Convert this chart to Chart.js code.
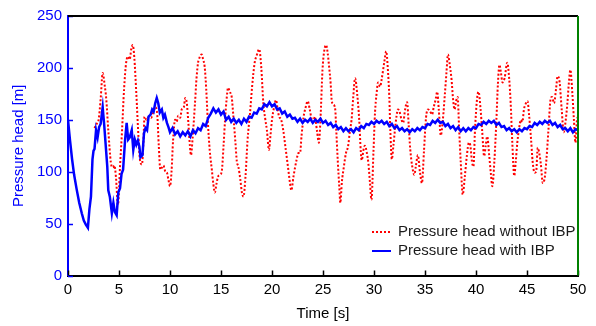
<!DOCTYPE html>
<html>
<head>
<meta charset="utf-8">
<script src="https://cdn.jsdelivr.net/npm/chart.js@4.4.0/dist/chart.umd.min.js"></script>
<style>
  html, body { margin: 0; padding: 0; background: #fff; }
</style>
</head>
<body>
<canvas id="chart" width="596" height="326"></canvas>
<script>
// pressure head without IBP (red dotted)
const redTime = [2.6, 2.8, 3.0, 3.2, 3.4, 3.6, 3.75, 3.95, 4.2, 4.4, 4.55, 4.7, 4.9, 5.1, 5.3, 5.5, 5.7, 5.9, 6.05, 6.2, 6.35, 6.5, 6.7, 6.9, 7.05, 7.25, 7.4, 7.5, 7.7, 7.95, 8.15, 8.35, 8.55, 8.75, 8.9, 9.05, 9.2, 9.35, 9.55, 9.7, 9.85,
  10.0, 10.15, 10.3, 10.5, 10.65, 10.8, 11.0, 11.15, 11.35, 11.5, 11.65, 11.8, 11.95, 12.06, 12.2, 12.45, 12.6, 12.75, 12.9, 13.1, 13.25, 13.4, 13.55, 13.7, 13.9, 14.1, 14.25, 14.4, 14.55, 14.7, 14.9, 15.07, 15.25, 15.4, 15.55, 15.7, 15.85, 16.05, 16.2, 16.4, 16.55, 16.7, 16.9, 17.05, 17.2, 17.4, 17.6, 17.85,
  18.05, 18.3, 18.5, 18.75, 18.95, 19.15, 19.35, 19.5, 19.7, 19.85, 20.0, 20.2, 20.4, 20.55, 20.7, 20.9, 21.1, 21.3, 21.6, 21.75, 21.9, 22.1, 22.4, 22.6, 22.75, 22.9, 23.1, 23.3, 23.5, 23.7, 23.9, 24.05, 24.2, 24.4, 24.6, 24.75, 24.95,
  25.1, 25.3, 25.45, 25.6, 25.75, 25.85, 26.0, 26.2, 26.3, 26.45, 26.6, 26.7, 26.85, 27.05, 27.25, 27.45, 27.65, 27.8, 27.95, 28.15, 28.35, 28.55, 28.7, 28.8, 28.95, 29.1, 29.3, 29.45, 29.6, 29.75, 29.95,
  30.1, 30.25, 30.4, 30.6, 30.75, 31.0, 31.2, 31.35, 31.5, 31.6, 31.75, 31.9, 32.05, 32.2, 32.35, 32.5, 32.7, 32.85, 33.05, 33.25, 33.4, 33.55, 33.75, 33.95, 34.1, 34.3, 34.5, 34.7, 34.9,
  35.1, 35.3, 35.5, 35.7, 35.85, 36.05, 36.2, 36.35, 36.55, 36.75, 36.95, 37.1, 37.25, 37.4, 37.6, 37.75, 37.9, 38.05, 38.2, 38.35, 38.5, 38.7, 38.9, 39.1, 39.3, 39.45, 39.6, 39.75, 39.9,
  40.1, 40.25, 40.45, 40.6, 40.8, 40.95, 41.1, 41.3, 41.45, 41.6, 41.8, 42.0, 42.15, 42.3, 42.45, 42.6, 42.8, 43.07, 43.25, 43.4, 43.55, 43.75, 43.9, 44.05, 44.2, 44.4, 44.55, 44.7, 44.9,
  45.05, 45.2, 45.4, 45.55, 45.75, 45.9, 46.05, 46.2, 46.35, 46.55, 46.75, 46.9, 47.1, 47.3, 47.45, 47.65, 47.85, 48.0, 48.2, 48.4, 48.6, 48.8, 48.95, 49.1, 49.25, 49.45, 49.6, 49.75, 49.9, 50.0];
const redHead = [142, 146, 150, 170, 195, 183, 170, 140, 109, 104, 106, 95, 68, 105, 140, 180, 205, 211, 208, 218, 222, 210, 175, 135, 112, 107, 130, 153, 150, 153, 152, 157, 162, 155, 125, 102, 104, 106, 100, 99, 92,
  86, 100, 130, 150, 148, 154, 152, 160, 162, 171, 166, 147, 125, 116, 130, 166, 190, 205, 210, 213, 208, 201, 180, 150, 120, 102, 88, 80, 88, 95, 97, 100, 125, 150, 170, 181, 177, 172, 155, 130, 110, 105, 92, 80, 76, 95, 130, 157,
  182, 205, 212, 218, 200, 166, 150, 140, 121, 135, 150, 162, 169, 160, 153, 150, 140, 125, 102, 90, 82, 95, 111, 118, 118, 135, 153, 162, 168, 160, 150, 148, 153, 140, 128, 150, 198,
  215, 222, 215, 201, 185, 169, 165, 160, 140, 110, 85, 70, 90, 105, 118, 124, 140, 150, 170, 190, 175, 150, 120, 111, 120, 125, 118, 108, 90, 73, 120,
  157, 175, 186, 182, 189, 205, 216, 200, 172, 140, 112, 125, 140, 153, 160, 158, 150, 147, 160, 167, 145, 122, 105, 97, 105, 116, 100, 89, 120,
  152, 160, 158, 155, 162, 170, 177, 160, 135, 150, 175, 195, 213, 205, 189, 170, 160, 168, 172, 140, 110, 78, 95, 115, 128, 125, 110, 105, 140,
  170, 177, 160, 140, 115, 125, 134, 115, 99, 86, 110, 150, 185, 203, 195, 186, 190, 205, 190, 166, 130, 96, 110, 128, 140, 150, 148, 160, 166,
  168, 155, 131, 110, 99, 100, 123, 118, 108, 89, 95, 111, 140, 169, 172, 166, 180, 192, 186, 160, 138, 150, 165, 185, 198, 175, 150, 128, 150, 153];

// pressure head with IBP (blue solid)
const blueTime = [0, 0.2, 0.4, 0.6, 0.85, 1.1, 1.35, 1.55, 1.75, 1.95, 2.1, 2.25, 2.4, 2.5, 2.6, 2.75, 2.9, 3.05, 3.2, 3.4, 3.55, 3.7, 3.85, 3.95, 4.1, 4.3, 4.45, 4.6, 4.77, 4.93,
  5.1, 5.25, 5.4, 5.6, 5.75, 5.9, 6.05, 6.25, 6.4, 6.55, 6.7, 6.85, 7.0, 7.1, 7.3, 7.45, 7.6, 7.75, 7.9, 8.1, 8.25, 8.4, 8.55, 8.7, 8.85, 9.0, 9.2, 9.35, 9.5, 9.7, 9.85,
  10, 10.25, 10.5, 10.75, 11, 11.25, 11.5, 11.75, 12, 12.25, 12.5, 12.75, 13, 13.25, 13.5, 13.75, 14, 14.25, 14.5, 14.75,
  15, 15.25, 15.5, 15.75, 16, 16.25, 16.5, 16.75, 17, 17.25, 17.5, 17.75, 18, 18.25, 18.5, 18.75, 19, 19.25, 19.5, 19.75,
  20, 20.25, 20.5, 20.75, 21, 21.25, 21.5, 21.75, 22, 22.25, 22.5, 22.75, 23, 23.25, 23.5, 23.75, 24, 24.25, 24.5, 24.75,
  25, 25.25, 25.5, 25.75, 26, 26.25, 26.5, 26.75, 27, 27.25, 27.5, 27.75, 28, 28.25, 28.5, 28.75, 29, 29.25, 29.5, 29.75,
  30, 30.25, 30.5, 30.75, 31, 31.25, 31.5, 31.75, 32, 32.25, 32.5, 32.75, 33, 33.25, 33.5, 33.75, 34, 34.25, 34.5, 34.75,
  35, 35.25, 35.5, 35.75, 36, 36.25, 36.5, 36.75, 37, 37.25, 37.5, 37.75, 38, 38.25, 38.5, 38.75, 39, 39.25, 39.5, 39.75,
  40, 40.25, 40.5, 40.75, 41, 41.25, 41.5, 41.75, 42, 42.25, 42.5, 42.75, 43, 43.25, 43.5, 43.75, 44, 44.25, 44.5, 44.75,
  45, 45.25, 45.5, 45.75, 46, 46.25, 46.5, 46.75, 47, 47.25, 47.5, 47.75, 48, 48.25, 48.5, 48.75, 49, 49.25, 49.5, 49.75, 50];
const blueHead = [150, 130, 112, 97, 83, 70, 60, 53, 49, 46, 64, 76, 112, 120, 122, 140, 133, 143, 146, 162, 145, 125, 105, 82, 76, 60, 70, 61, 58, 80,
  84, 98, 102, 131, 147, 131, 133, 140, 121, 131, 126, 130, 124, 114, 116, 137, 142, 140, 153, 155, 160, 158, 166, 171, 166, 157, 160, 152, 155, 147, 143,
  138, 142, 136, 139, 134, 138, 135, 139, 134, 140, 137, 142, 140, 146, 144, 152, 156, 161, 157, 160,
  155, 158, 150, 153, 148, 151, 147, 150, 146, 151, 148, 153, 152, 157, 156, 161, 160, 165, 163, 167,
  163, 165, 160, 161, 156, 158, 153, 155, 151, 152, 148, 151, 147, 150, 148, 151, 147, 150, 148, 151,
  147, 149, 145, 147, 143, 145, 141, 143, 139, 142, 139, 141, 138, 142, 140, 144, 142, 146, 145, 148,
  146, 149, 147, 149, 146, 148, 144, 146, 142, 144, 140, 142, 139, 141, 138, 141, 139, 142, 140, 143,
  142, 146, 145, 149, 147, 150, 147, 148, 144, 146, 142, 144, 140, 143, 139, 142, 139, 142, 140, 143,
  142, 146, 145, 148, 146, 149, 147, 149, 145, 147, 143, 144, 140, 142, 139, 141, 138, 141, 139, 142,
  141, 144, 143, 147, 145, 148, 146, 149, 147, 149, 145, 147, 143, 145, 141, 142, 139, 142, 138, 141, 140];

const xTicks = [0, 5, 10, 15, 20, 25, 30, 35, 40, 45, 50];
const yTicks = [0, 50, 100, 150, 200, 250];
const legendLabels = ["Pressure head without IBP", "Pressure head with IBP"];

const RED = "#ff0000";
const BLUE = "#0000ff";
const font = { family: "'Liberation Sans', Arial, sans-serif", size: 15 };

function toPoints(xs, ys) {
  return xs.map((x, i) => ({ x: x, y: ys[i] }));
}

// inward ticks, top/right frame and the in-plot legend
const framePlugin = {
  id: "frame",
  afterDatasetsDraw(chart) {
    const { ctx, chartArea: a, scales } = chart;
    ctx.save();
    ctx.lineWidth = 1.5;
    ctx.strokeStyle = "#000";
    xTicks.forEach(v => {
      const px = Math.round(scales.x.getPixelForValue(v)) + 0.5;
      ctx.beginPath();
      ctx.moveTo(px, a.bottom);
      ctx.lineTo(px, a.bottom - 5);
      ctx.stroke();
    });
    ctx.strokeStyle = BLUE;
    yTicks.forEach(v => {
      const py = Math.round(scales.y.getPixelForValue(v)) + 0.5;
      ctx.beginPath();
      ctx.moveTo(a.left, py);
      ctx.lineTo(a.left + 5, py);
      ctx.stroke();
    });
    // top border black, right border green
    ctx.lineWidth = 2;
    ctx.strokeStyle = "#000";
    ctx.beginPath();
    ctx.moveTo(a.left, a.top);
    ctx.lineTo(a.right, a.top);
    ctx.stroke();
    ctx.strokeStyle = "#008000";
    ctx.beginPath();
    ctx.moveTo(a.right, a.top);
    ctx.lineTo(a.right, a.bottom);
    ctx.stroke();

    // legend
    const lx = a.left + 304, ly = a.top + 216;
    ctx.font = "15px 'Liberation Sans', Arial, sans-serif";
    ctx.textBaseline = "middle";
    ctx.fillStyle = "#1a1a1a";
    ctx.lineWidth = 2;
    ctx.strokeStyle = RED;
    ctx.setLineDash([2, 2]);
    ctx.beginPath();
    ctx.moveTo(lx, ly);
    ctx.lineTo(lx + 19, ly);
    ctx.stroke();
    ctx.setLineDash([]);
    ctx.strokeStyle = BLUE;
    ctx.beginPath();
    ctx.moveTo(lx, ly + 19);
    ctx.lineTo(lx + 19, ly + 19);
    ctx.stroke();
    ctx.fillText(legendLabels[0], lx + 26, ly);
    ctx.fillText(legendLabels[1], lx + 26, ly + 19);
    ctx.restore();
  }
};

new Chart(document.getElementById("chart"), {
  type: "line",
  data: {
    datasets: [
      {
        label: legendLabels[0],
        data: toPoints(redTime, redHead),
        borderColor: RED,
        borderWidth: 2,
        borderDash: [2, 2],
        cubicInterpolationMode: "monotone",
        order: 1,
      },
      {
        label: legendLabels[1],
        data: toPoints(blueTime, blueHead),
        borderColor: BLUE,
        borderWidth: 2.5,
        tension: 0,
        order: 0,
      },
    ],
  },
  options: {
    responsive: false,
    animation: false,
    layout: { padding: { top: 16, right: 18, left: 0, bottom: 0 } },
    elements: { point: { radius: 0 } },
    plugins: { legend: { display: false }, tooltip: { enabled: false } },
    scales: {
      x: {
        type: "linear",
        min: 0,
        max: 50,
        afterFit: s => { s.height = 50.5; },
        afterBuildTicks: s => { s.ticks = xTicks.map(v => ({ value: v })); },
        ticks: { color: "#000", font: font, padding: 5, maxRotation: 0 },
        grid: { display: false, drawTicks: false },
        border: { color: "#000", width: 2 },
        title: { display: true, text: "Time [s]", color: "#000", font: font, padding: { top: 0, bottom: 3 } },
      },
      y: {
        min: 0,
        max: 250,
        afterFit: s => { s.width = 68; },
        afterBuildTicks: s => { s.ticks = yTicks.map(v => ({ value: v })); },
        ticks: { color: BLUE, font: font, padding: 6 },
        grid: { display: false, drawTicks: false },
        border: { color: BLUE, width: 2 },
        title: { display: true, text: "Pressure head [m]", color: BLUE, font: font, padding: { top: 10, bottom: 0 } },
      },
    },
  },
  plugins: [framePlugin],
});
</script>
</body>
</html>
